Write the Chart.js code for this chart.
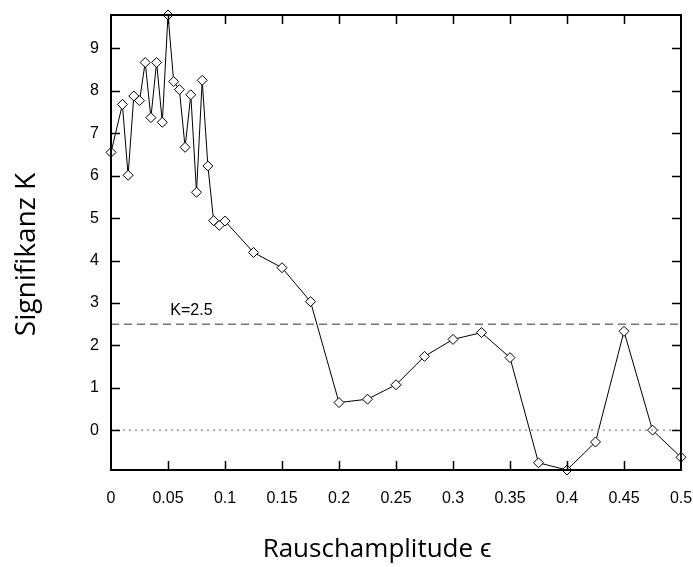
<!DOCTYPE html>
<html><head><meta charset="utf-8">
<script src="https://cdn.jsdelivr.net/npm/chart.js@4/dist/chart.umd.min.js"></script>
<style>html,body{margin:0;padding:0;background:#fff}#wrap{width:693px;height:567px}</style>
</head><body><div id="wrap"><canvas id="c" width="693" height="567"></canvas></div>
<script>
// ---- data ----
const epsilon = [0, 0.01, 0.015, 0.02, 0.025, 0.03, 0.035, 0.04, 0.045, 0.05, 0.055, 0.06, 0.065, 0.07, 0.075, 0.08, 0.085, 0.09, 0.095, 0.1, 0.125, 0.15, 0.175, 0.2, 0.225, 0.25, 0.275, 0.3, 0.325, 0.35, 0.375, 0.4, 0.425, 0.45, 0.475, 0.5];
const significance = [6.55, 7.68, 6.01, 7.88, 7.77, 8.67, 7.37, 8.67, 7.26, 9.79, 8.22, 8.03, 6.67, 7.91, 5.61, 8.25, 6.23, 4.94, 4.83, 4.93, 4.19, 3.83, 3.03, 0.65, 0.73, 1.07, 1.74, 2.14, 2.30, 1.71, -0.77, -0.94, -0.28, 2.33, 0.0, -0.64];
const xTickValues = [0, 0.05, 0.1, 0.15, 0.2, 0.25, 0.3, 0.35, 0.4, 0.45, 0.5];
const yTickValues = [0, 1, 2, 3, 4, 5, 6, 7, 8, 9];
const xRange = [0, 0.5];
const yRange = [-0.94, 9.79];
const thresholdLevel = 2.5;
const thresholdLabel = 'K=2.5';
const thresholdLabelX = 0.052;
const zeroLevel = 0;
const xTitle = 'Rauschamplitude \u03F5';
const yTitle = 'Signifikanz K';

const points = epsilon.map((x, i) => ({x: x, y: significance[i]}));
const thresholdLine = xRange.map(x => ({x: x, y: thresholdLevel}));
const zeroLine = xRange.map(x => ({x: x, y: zeroLevel}));

const TICKFONT = {family: '"Liberation Sans", Arial, sans-serif', size: 16};
const TITLEFAMILY = '"Open Sans", sans-serif';

const framePlugin = {
  id: 'frame',
  afterDraw(chart) {
    const {ctx, chartArea: a, scales: {x, y}} = chart;
    ctx.save();
    ctx.strokeStyle = '#000';
    ctx.lineWidth = 1.5;
    const tl = 9;
    ctx.beginPath();
    x.ticks.forEach(t => {
      const px = Math.round(x.getPixelForValue(t.value)) + 0.5;
      if (t.value > xRange[0] && t.value < xRange[1]) {
        ctx.moveTo(px, a.bottom); ctx.lineTo(px, a.bottom - tl);
        ctx.moveTo(px, a.top); ctx.lineTo(px, a.top + tl);
      }
    });
    y.ticks.forEach(t => {
      const py = Math.round(y.getPixelForValue(t.value)) + 0.5;
      ctx.moveTo(a.left, py); ctx.lineTo(a.left + tl, py);
      ctx.moveTo(a.right, py); ctx.lineTo(a.right - tl, py);
    });
    ctx.stroke();
    ctx.lineWidth = 2;
    ctx.strokeRect(a.left, a.top, a.right - a.left, a.bottom - a.top);
    // threshold label
    ctx.fillStyle = '#000';
    ctx.font = '16px "Liberation Sans", Arial, sans-serif';
    ctx.textAlign = 'left';
    ctx.textBaseline = 'alphabetic';
    ctx.fillText(thresholdLabel, x.getPixelForValue(thresholdLabelX), y.getPixelForValue(thresholdLevel) - 9);
    // axis titles
    ctx.textAlign = 'center';
    ctx.font = '26px ' + TITLEFAMILY;
    ctx.fillText(xTitle, (a.left + a.right) / 2 - 19, chart.height - 10);
    ctx.translate(35, (a.top + a.bottom) / 2 + 12);
    ctx.rotate(-Math.PI / 2);
    ctx.font = '28px ' + TITLEFAMILY;
    ctx.fillText(yTitle, 0, 0);
    ctx.restore();
  }
};

new Chart(document.getElementById('c'), {
  type: 'line',
  data: {
    datasets: [
      {data: zeroLine, borderColor: '#888', borderWidth: 1.2, borderDash: [2, 4], pointRadius: 0, fill: false},
      {data: thresholdLine, borderColor: '#777', borderWidth: 1.5, borderDash: [8, 5], pointRadius: 0, fill: false},
      {data: points, borderColor: '#000', borderWidth: 1, pointStyle: 'rectRot', pointRadius: 5,
       pointBorderColor: '#000', pointBackgroundColor: '#fff', pointBorderWidth: 1, clip: false, tension: 0, fill: false}
    ]
  },
  options: {
    responsive: false,
    animation: false,
    devicePixelRatio: 1,
    layout: {padding: {left: 0, right: 12, top: 15, bottom: 0}},
    plugins: {legend: {display: false}, tooltip: {enabled: false}},
    scales: {
      x: {
        type: 'linear', min: xRange[0], max: xRange[1],
        afterBuildTicks: s => { s.ticks = xTickValues.map(v => ({value: v})); },
        afterFit: s => { s.height = 97; s.paddingLeft = 0; s.paddingRight = 0; },
        grid: {display: false, drawTicks: false},
        border: {display: false},
        ticks: {color: '#000', font: TICKFONT, padding: 19, maxRotation: 0, autoSkip: false, callback: v => String(v)},
        title: {display: false, text: xTitle}
      },
      y: {
        type: 'linear', min: yRange[0], max: yRange[1],
        afterBuildTicks: s => { s.ticks = yTickValues.map(v => ({value: v})); },
        afterFit: s => { s.width = 111; s.paddingTop = 0; s.paddingBottom = 0; },
        grid: {display: false, drawTicks: false},
        border: {display: false},
        ticks: {color: '#000', font: TICKFONT, padding: 12, autoSkip: false, callback: v => String(v)},
        title: {display: false, text: yTitle}
      }
    }
  },
  plugins: [framePlugin]
});
</script></body></html>
